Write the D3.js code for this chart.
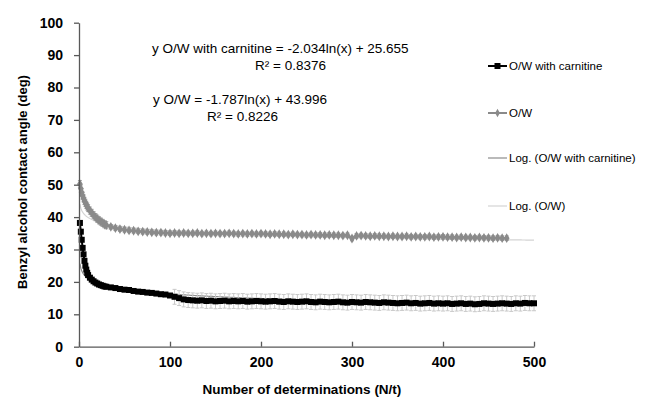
<!DOCTYPE html>
<html>
<head>
<meta charset="utf-8">
<script src="https://cdn.jsdelivr.net/npm/d3@7"></script>
<style>
  body { margin: 0; background: #fff; }
  text { font-family: "Liberation Sans", Arial, sans-serif; }
</style>
</head>
<body>
<svg id="chart" width="646" height="399"></svg>
<script>
var carnN = d3.range(1, 11).concat(d3.range(12, 31, 2), d3.range(35, 501, 5));
var owN = d3.range(1, 11).concat(d3.range(12, 31, 2), d3.range(35, 471, 5));

// O/W with carnitine, contact angle (deg)
var carnVals = [
  38.2, 35.5, 33.0, 30.5, 28.5, 26.5, 25.0, 23.8, 22.8, 22.1,
  21.3, 20.7, 20.2, 19.8, 19.5, 19.2, 19.0, 18.8, 18.6, 18.5,
  18.3, 18.1, 17.8, 17.6, 17.5, 17.2, 17.0, 16.9, 16.7, 16.6, 16.4, 16.2, 16.1, 15.8,
  15.4, 15.0, 14.6, 14.4,
  14.3, 14.2, 14.3, 14.1, 14.2, 14.0, 14.1, 14.2, 14.0, 14.1, 14.0, 14.1, 13.9, 14.0, 14.1, 14.0,
  13.9, 14.0, 14.1, 13.9, 13.8, 14.0, 13.9, 13.8, 13.9, 14.0, 13.8, 13.7, 13.9, 13.8, 13.7, 13.8, 13.9, 13.7, 13.6, 13.8,
  13.7, 13.6, 13.8, 13.7, 13.6, 13.5, 13.7, 13.6, 13.5, 13.4, 13.5, 13.6, 13.4, 13.5, 13.3, 13.4, 13.5, 13.3, 13.4, 13.3,
  13.4, 13.2, 13.3, 13.4, 13.2, 13.3, 13.1, 13.2, 13.4, 13.3, 13.2, 13.3, 13.4, 13.3, 13.2, 13.4, 13.3, 13.5, 13.4, 13.4
];

// O/W, contact angle (deg)
var owVals = [
  50.2, 48.8, 47.6, 46.6, 45.8, 45.0, 44.4, 43.8, 43.3, 42.8,
  42.0, 41.3, 40.6, 40.0, 39.5, 39.0, 38.6, 38.2, 37.8, 37.5,
  37.0, 36.6, 36.3, 36.1, 35.9, 35.8, 35.6, 35.5, 35.4, 35.3, 35.2, 35.2, 35.1, 35.0,
  35.1, 35.0, 35.1, 35.0, 35.0, 35.1, 34.9, 35.0, 34.9, 35.0, 34.9, 34.9, 35.0, 34.9, 34.8, 34.9, 34.8, 34.9, 34.8, 34.9,
  34.8, 34.7, 34.8, 34.7, 34.7, 34.6, 34.7, 34.6, 34.6, 34.5, 34.6, 34.5, 34.5, 34.4, 34.5, 34.4, 34.4, 34.3, 34.4, 33.4,
  34.2, 34.3, 34.2, 34.1, 34.2, 34.1, 34.1, 34.0, 34.1, 34.0, 34.0, 34.1, 33.9, 34.0, 33.9, 33.9, 34.0, 33.8, 33.9, 33.9,
  33.8, 33.8, 33.7, 33.8, 33.7, 33.7, 33.6, 33.7, 33.6, 33.6, 33.5, 33.6, 33.5, 33.5
];

// error bar half-widths: [from N, to N, sd]
var carnSd = [[1, 104, 0.6], [105, 500, 2.3]];
var owSd = [[1, 30, 1.1], [31, 470, 0.7]];

// logarithmic trendlines y = a*ln(x) + b
var trendA = [-2.034, -1.787];
var trendB = [25.655, 43.996];
var trendEnd = [500, 500];

var yTicks = [0, 10, 20, 30, 40, 50, 60, 70, 80, 90, 100];
var xTicks = [0, 100, 200, 300, 400, 500];

var equations = [
  "y O/W with carnitine = -2.034ln(x) + 25.655", "R\u00b2 = 0.8376",
  "y O/W = -1.787ln(x) + 43.996", "R\u00b2 = 0.8226"
];
var legendNames = ["O/W with carnitine", "O/W", "Log. (O/W with carnitine)", "Log. (O/W)"];

var svg = d3.select("#chart");
var x = d3.scaleLinear().domain([0, 500]).range([79, 534]);
var y = d3.scaleLinear().domain([0, 100]).range([346.7, 22.7]);

function sdAt(table, n) {
  for (var i = 0; i < table.length; i++) {
    if (n >= table[i][0] && n <= table[i][1]) return table[i][2];
  }
  return 0;
}

var carn = carnN.map(function(n, i) { return { n: n, v: carnVals[i], sd: sdAt(carnSd, n) }; });
var ow = owN.map(function(n, i) { return { n: n, v: owVals[i], sd: sdAt(owSd, n) }; });

// trendlines (under the markers)
var trendColors = ["#8c8c8c", "#d4d4d4"];
trendA.forEach(function(a, k) {
  var pts = d3.range(1, trendEnd[k] + 1).map(function(n) { return [n, a * Math.log(n) + trendB[k]]; });
  svg.append("path")
    .attr("d", d3.line().x(function(d) { return x(d[0]); }).y(function(d) { return y(d[1]); })(pts))
    .attr("fill", "none")
    .attr("stroke", trendColors[k])
    .attr("stroke-width", 1.2);
});

function errorBars(data, color) {
  var g = svg.append("g").attr("stroke", color).attr("stroke-width", 1).attr("fill", "none");
  g.selectAll("path").data(data).enter().append("path")
    .attr("d", function(d) {
      var cx = x(d.n), y1 = y(d.v + d.sd), y2 = y(d.v - d.sd);
      return "M" + cx + "," + y1 + "V" + y2 +
        "M" + (cx - 2) + "," + y1 + "H" + (cx + 2) +
        "M" + (cx - 2) + "," + y2 + "H" + (cx + 2);
    });
}

errorBars(ow, "#a6a6a6");
errorBars(carn, "#c8c8c8");

// O/W series
svg.append("path")
  .attr("d", d3.line().x(function(d) { return x(d.n); }).y(function(d) { return y(d.v); })(ow))
  .attr("fill", "none").attr("stroke", "#8a8a8a").attr("stroke-width", 2.5);
svg.append("g").selectAll("path").data(ow).enter().append("path")
  .attr("transform", function(d) { return "translate(" + x(d.n) + "," + y(d.v) + ")"; })
  .attr("d", d3.symbol().type(d3.symbolDiamond).size(28))
  .attr("fill", "#8a8a8a");

// O/W with carnitine series
svg.append("path")
  .attr("d", d3.line().x(function(d) { return x(d.n); }).y(function(d) { return y(d.v); })(carn))
  .attr("fill", "none").attr("stroke", "#000").attr("stroke-width", 2);
svg.append("g").selectAll("rect").data(carn).enter().append("rect")
  .attr("x", function(d) { return x(d.n) - 3; })
  .attr("y", function(d) { return y(d.v) - 3; })
  .attr("width", 6).attr("height", 6)
  .attr("fill", "#000");

// axes
var xAxis = svg.append("g").attr("transform", "translate(0," + y(0) + ")")
  .call(d3.axisBottom(x).tickValues(xTicks).tickSizeInner(-5).tickSizeOuter(0).tickPadding(10));
var yAxis = svg.append("g").attr("transform", "translate(" + x(0) + ",0)")
  .call(d3.axisLeft(y).tickValues(yTicks).tickSizeInner(5).tickSizeOuter(0).tickPadding(11));
[xAxis, yAxis].forEach(function(ax) {
  ax.select(".domain").attr("stroke", "#595959").attr("stroke-width", 1.3);
  ax.selectAll(".tick line").attr("stroke", "#595959").attr("stroke-width", 1.3);
  ax.selectAll(".tick text")
    .attr("font-family", "Liberation Sans, Arial, sans-serif")
    .attr("font-size", 14).attr("font-weight", "bold").attr("fill", "#000");
});

svg.append("text")
  .attr("x", 302).attr("y", 394)
  .attr("text-anchor", "middle")
  .attr("font-size", 13.5).attr("font-weight", "bold")
  .text("Number of determinations (N/t)");

svg.append("text")
  .attr("transform", "translate(27,182) rotate(-90)")
  .attr("text-anchor", "middle")
  .attr("font-size", 13).attr("font-weight", "bold")
  .text("Benzyl alcohol contact angle (deg)");

// trendline equations
var eqPos = [[152, 53], [255, 70], [153, 104], [207, 121]];
equations.forEach(function(t, i) {
  svg.append("text")
    .attr("x", eqPos[i][0]).attr("y", eqPos[i][1])
    .attr("font-size", 13.5)
    .text(t);
});

// legend
var legY = [66, 113, 158, 206];
var legColor = ["#000", "#8a8a8a", "#8c8c8c", "#d4d4d4"];
legendNames.forEach(function(name, i) {
  var g = svg.append("g").attr("transform", "translate(0," + legY[i] + ")");
  g.append("line").attr("x1", 488).attr("x2", 507).attr("y1", 0).attr("y2", 0)
    .attr("stroke", legColor[i]).attr("stroke-width", i < 2 ? 2 : 1.2);
  if (i === 0) {
    g.append("rect").attr("x", 494.5).attr("y", -3).attr("width", 6).attr("height", 6).attr("fill", "#000");
  } else if (i === 1) {
    g.append("path").attr("transform", "translate(497.5,0)")
      .attr("d", d3.symbol().type(d3.symbolDiamond).size(20)).attr("fill", "#8a8a8a");
  }
  g.append("text").attr("x", 509).attr("y", 4)
    .attr("font-size", 11.5)
    .text(name);
});
</script>
</body>
</html>
